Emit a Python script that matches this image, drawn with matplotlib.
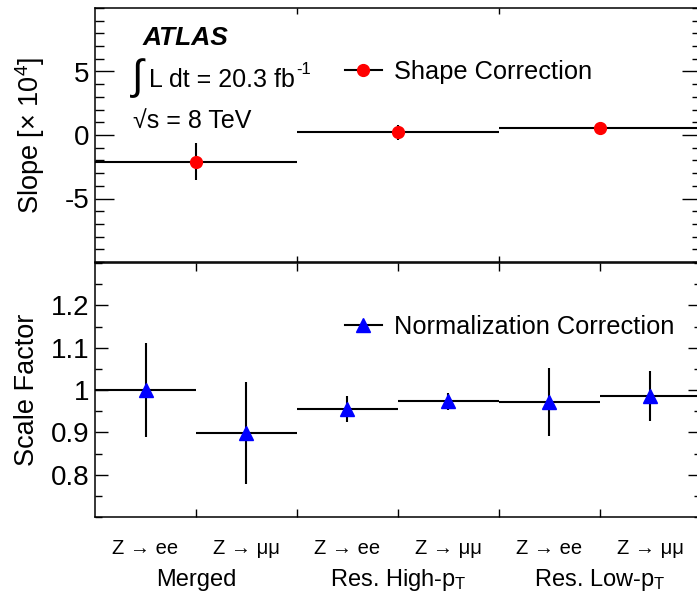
import matplotlib
matplotlib.use("Agg")
import matplotlib.pyplot as plt
import matplotlib.transforms as mtransforms
from matplotlib.lines import Line2D
from matplotlib.ticker import MultipleLocator, FixedLocator

plt.rcParams['font.family'] = ['Liberation Sans', 'DejaVu Sans']
plt.rcParams['mathtext.fontset'] = 'custom'
plt.rcParams['mathtext.rm'] = 'Liberation Sans'
plt.rcParams['mathtext.it'] = 'Liberation Sans:italic'
plt.rcParams['mathtext.bf'] = 'Liberation Sans:bold'
plt.rcParams['axes.unicode_minus'] = False

# top panel: slope per selection (x 10^4)
groups = ["Merged", "Res. High-p$_{\\mathrm{T}}$", "Res. Low-p$_{\\mathrm{T}}$"]
group_x = [1, 3, 5]
slope = [-2.1, 0.2, 0.52]
slope_err = [1.45, 0.57, 0.15]

# bottom panel: normalization scale factors per channel
channels = ["Z \u2192 ee", "Z \u2192 \u03bc\u03bc", "Z \u2192 ee", "Z \u2192 \u03bc\u03bc",
            "Z \u2192 ee", "Z \u2192 \u03bc\u03bc"]
chan_x = [0.5, 1.5, 2.5, 3.5, 4.5, 5.5]
sf = [1.0, 0.899, 0.955, 0.973, 0.972, 0.986]
sf_err = [0.11, 0.12, 0.03, 0.02, 0.08, 0.06]

W, H = 697, 601
fig = plt.figure(figsize=(W / 100, H / 100), dpi=100)

def px(x0, y0, x1, y1):
    return [x0 / W, 1 - y1 / H, (x1 - x0) / W, (y1 - y0) / H]

ax1 = fig.add_axes(px(95, 8, 701, 262))
ax2 = fig.add_axes(px(95, 263, 701, 517))

for ax in (ax1, ax2):
    for s in ax.spines.values():
        s.set_linewidth(1.1)
    ax.set_xlim(0, 6)
    ax.tick_params(which='both', direction='in', top=True, right=True, width=1.0)

# ---- top panel
ax1.errorbar(group_x, slope, xerr=1, yerr=slope_err, fmt='o', color='red',
             ms=8.5, ecolor='black', elinewidth=1.5, capsize=0, zorder=3)
ax1.set_ylim(-10, 10)
ax1.yaxis.set_major_locator(FixedLocator([-5, 0, 5]))
ax1.set_yticklabels(['-5', '0', '5'])
ax1.yaxis.set_minor_locator(MultipleLocator(1))
ax1.xaxis.set_major_locator(FixedLocator([2, 4]))
ax1.xaxis.set_minor_locator(FixedLocator([]))
ax1.set_xticklabels([])
ax1.tick_params(axis='y', which='major', length=14, labelsize=20, pad=4)
ax1.tick_params(axis='y', which='minor', length=6.5)
ax1.tick_params(axis='x', which='major', length=4.5)
ax1.set_ylabel("Slope [$\\times$ 10$^{4}$]", fontsize=19.5, labelpad=13)

h1 = Line2D([], [], color='black', lw=1.5, marker='o', ms=8.5,
            markerfacecolor='red', markeredgecolor='red')
ax1.legend([h1], ["Shape Correction"], loc='center left', frameon=False,
           bbox_to_anchor=((345 - 95) / 606, 1 - (72 - 8) / 254),
           bbox_transform=ax1.transAxes, fontsize=18.3, handlelength=1.45,
           handletextpad=0.47, borderpad=0, borderaxespad=0)

ax1.text(143 / W, 1 - 38 / H, "ATLAS", transform=fig.transFigure, fontsize=19,
         fontweight='bold', fontstyle='italic', va='center', ha='left')
ax1.text(132 / W, 1 - 78 / H, "\u222b", transform=fig.transFigure,
         fontsize=30, va='center', ha='left')
lumi = ax1.text(149 / W, 1 - 80 / H, "L dt = 20.3 fb", transform=fig.transFigure,
                fontsize=18, va='center', ha='left')
ax1.annotate("-1", xy=(1, 1), xycoords=lumi, xytext=(1, -1),
             textcoords='offset points', fontsize=12, va='center', ha='left')
ax1.text(133 / W, 1 - 121 / H, "\u221as = 8 TeV", transform=fig.transFigure,
         fontsize=18, va='center', ha='left')

# ---- bottom panel
ax2.errorbar(chan_x, sf, xerr=0.5, yerr=sf_err, fmt='^', color='blue',
             ms=10, ecolor='black', elinewidth=1.5, capsize=0, zorder=3)
ax2.set_ylim(0.7, 1.3)
ax2.yaxis.set_major_locator(FixedLocator([0.8, 0.9, 1.0, 1.1, 1.2]))
ax2.set_yticklabels(['0.8', '0.9', '1', '1.1', '1.2'])
ax2.yaxis.set_minor_locator(MultipleLocator(0.05))
ax2.xaxis.set_major_locator(FixedLocator([1, 2, 3, 4, 5]))
ax2.set_xticks(chan_x, minor=True)
ax2.set_xticklabels([])
ax2.set_xticklabels(channels, minor=True)
ax2.tick_params(axis='y', which='major', length=9.5, labelsize=20, pad=4)
ax2.tick_params(axis='y', which='minor', length=5)
ax2.tick_params(axis='x', which='major', length=6)
ax2.tick_params(axis='x', which='minor', length=0, labelsize=14.5, pad=16,
                top=False)
ax2.set_ylabel("Scale Factor", fontsize=19.5, labelpad=8)

trans = mtransforms.blended_transform_factory(ax2.transData, ax2.transAxes)
for gx, g in zip(group_x, groups):
    ax2.text(gx, -(580 - 517) / 254, g, transform=trans, ha='center', va='center',
             fontsize=17)

h2 = Line2D([], [], color='black', lw=1.5, marker='^', ms=10,
            markerfacecolor='blue', markeredgecolor='blue')
ax2.legend([h2], ["Normalization Correction"], loc='center left', frameon=False,
           bbox_to_anchor=((345 - 95) / 606, 1 - (327 - 263) / 254),
           bbox_transform=ax2.transAxes, fontsize=18.3, handlelength=1.45,
           handletextpad=0.47, borderpad=0, borderaxespad=0)

fig.savefig("out.png", dpi=100)
